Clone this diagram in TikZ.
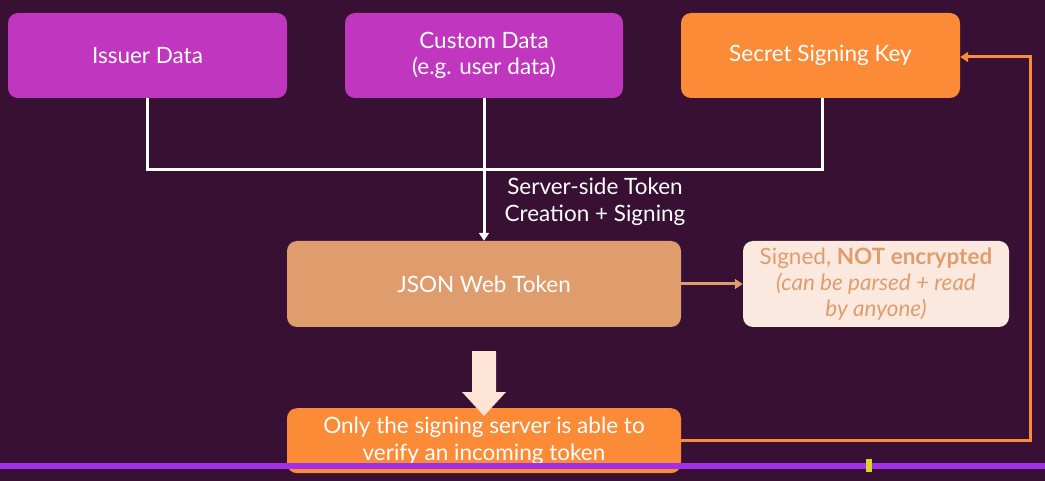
\documentclass[tikz,border=0pt]{standalone}
\usepackage{fontspec}
\setmainfont{Lato}
\usetikzlibrary{arrows.meta}
\definecolor{bg}{HTML}{371033}
\definecolor{mag}{HTML}{C136BE}
\definecolor{org}{HTML}{FB8B36}
\definecolor{tan}{HTML}{DF9D6E}
\definecolor{pale}{HTML}{FBE9E0}
\definecolor{blk}{HTML}{FDE4D7}
\definecolor{barcol}{HTML}{A22FE8}
\definecolor{markcol}{HTML}{D9D62A}
\begin{document}
\begin{tikzpicture}[x=1pt,y=-1pt,
  txt/.style={font=\fontsize{22.5}{26.5}\selectfont},
  box/.style={rounded corners=10pt, inner sep=0pt, align=center, text=white, txt},
  wline/.style={draw=white, line width=3pt},
  oline/.style={draw=org, line width=3pt}]
\fill[bg] (0,0) rectangle (1045,481);
\useasboundingbox (0,0) rectangle (1045,481);
% boxes
\node[box, fill=mag, minimum width=279pt, minimum height=85pt] (issuer) at (147.5,55.5) {Issuer Data};
\node[box, fill=mag, minimum width=278pt, minimum height=85pt] (custom) at (484,55.5) {Custom Data\\(e.g. user data)};
\node[box, fill=org, minimum width=279pt, minimum height=85pt] (key) at (820.5,55.5) {Secret Signing Key};
\node[box, fill=tan, minimum width=394pt, minimum height=86pt] (jwt) at (484,284) {JSON Web Token};
\node[box, fill=pale, text=tan, minimum width=266pt, minimum height=86pt, font=\fontsize{22.5}{26}\selectfont] (note) at (876,284) {Signed, \textbf{NOT encrypted}\\\textit{(can be parsed + read}\\\textit{by anyone)}};
\node[box, fill=org, minimum width=394pt, minimum height=65pt, anchor=north] (verify) at (484,408) {};
\node[text=white, align=center, txt, inner sep=0pt] (vtext) at (484,441) {Only the signing server is able to\\verify an incoming token};
% white connectors
\coordinate (j1) at (147,170);
\coordinate (j2) at (822,170);
\draw[wline] (issuer.south -| j1) -- (j1) -- (j2) -- (key.south -| j2);
\draw[wline, -{Triangle[width=10pt,length=8pt]}] (custom.south) -- (jwt.north);
\node[text=white, align=center, txt, inner sep=0pt] (lbl) at (595,202) {Server-side Token\\Creation + Signing};
% tan arrow
\draw[draw=tan, line width=3pt, -{Triangle[width=10pt,length=8pt]}] (jwt.east) -- (note.west);
% orange return arrow
\coordinate (r1) at (1030,440);
\coordinate (r2) at (1030,57);
\draw[oline, -{Triangle[width=10pt,length=8pt]}] (verify.east |- r1) -- (r1) -- (r2) -- (key.east |- r2);
% block arrow
\fill[blk] (472,351) -- (496,351) -- (496,392) -- (506,392) -- (484,416) -- (462,392) -- (472,392) -- cycle;
% progress bar
\fill[barcol] (0,463) rectangle (1045,469);
\fill[markcol] (866,459) rectangle (872,472);
\end{tikzpicture}
\end{document}
